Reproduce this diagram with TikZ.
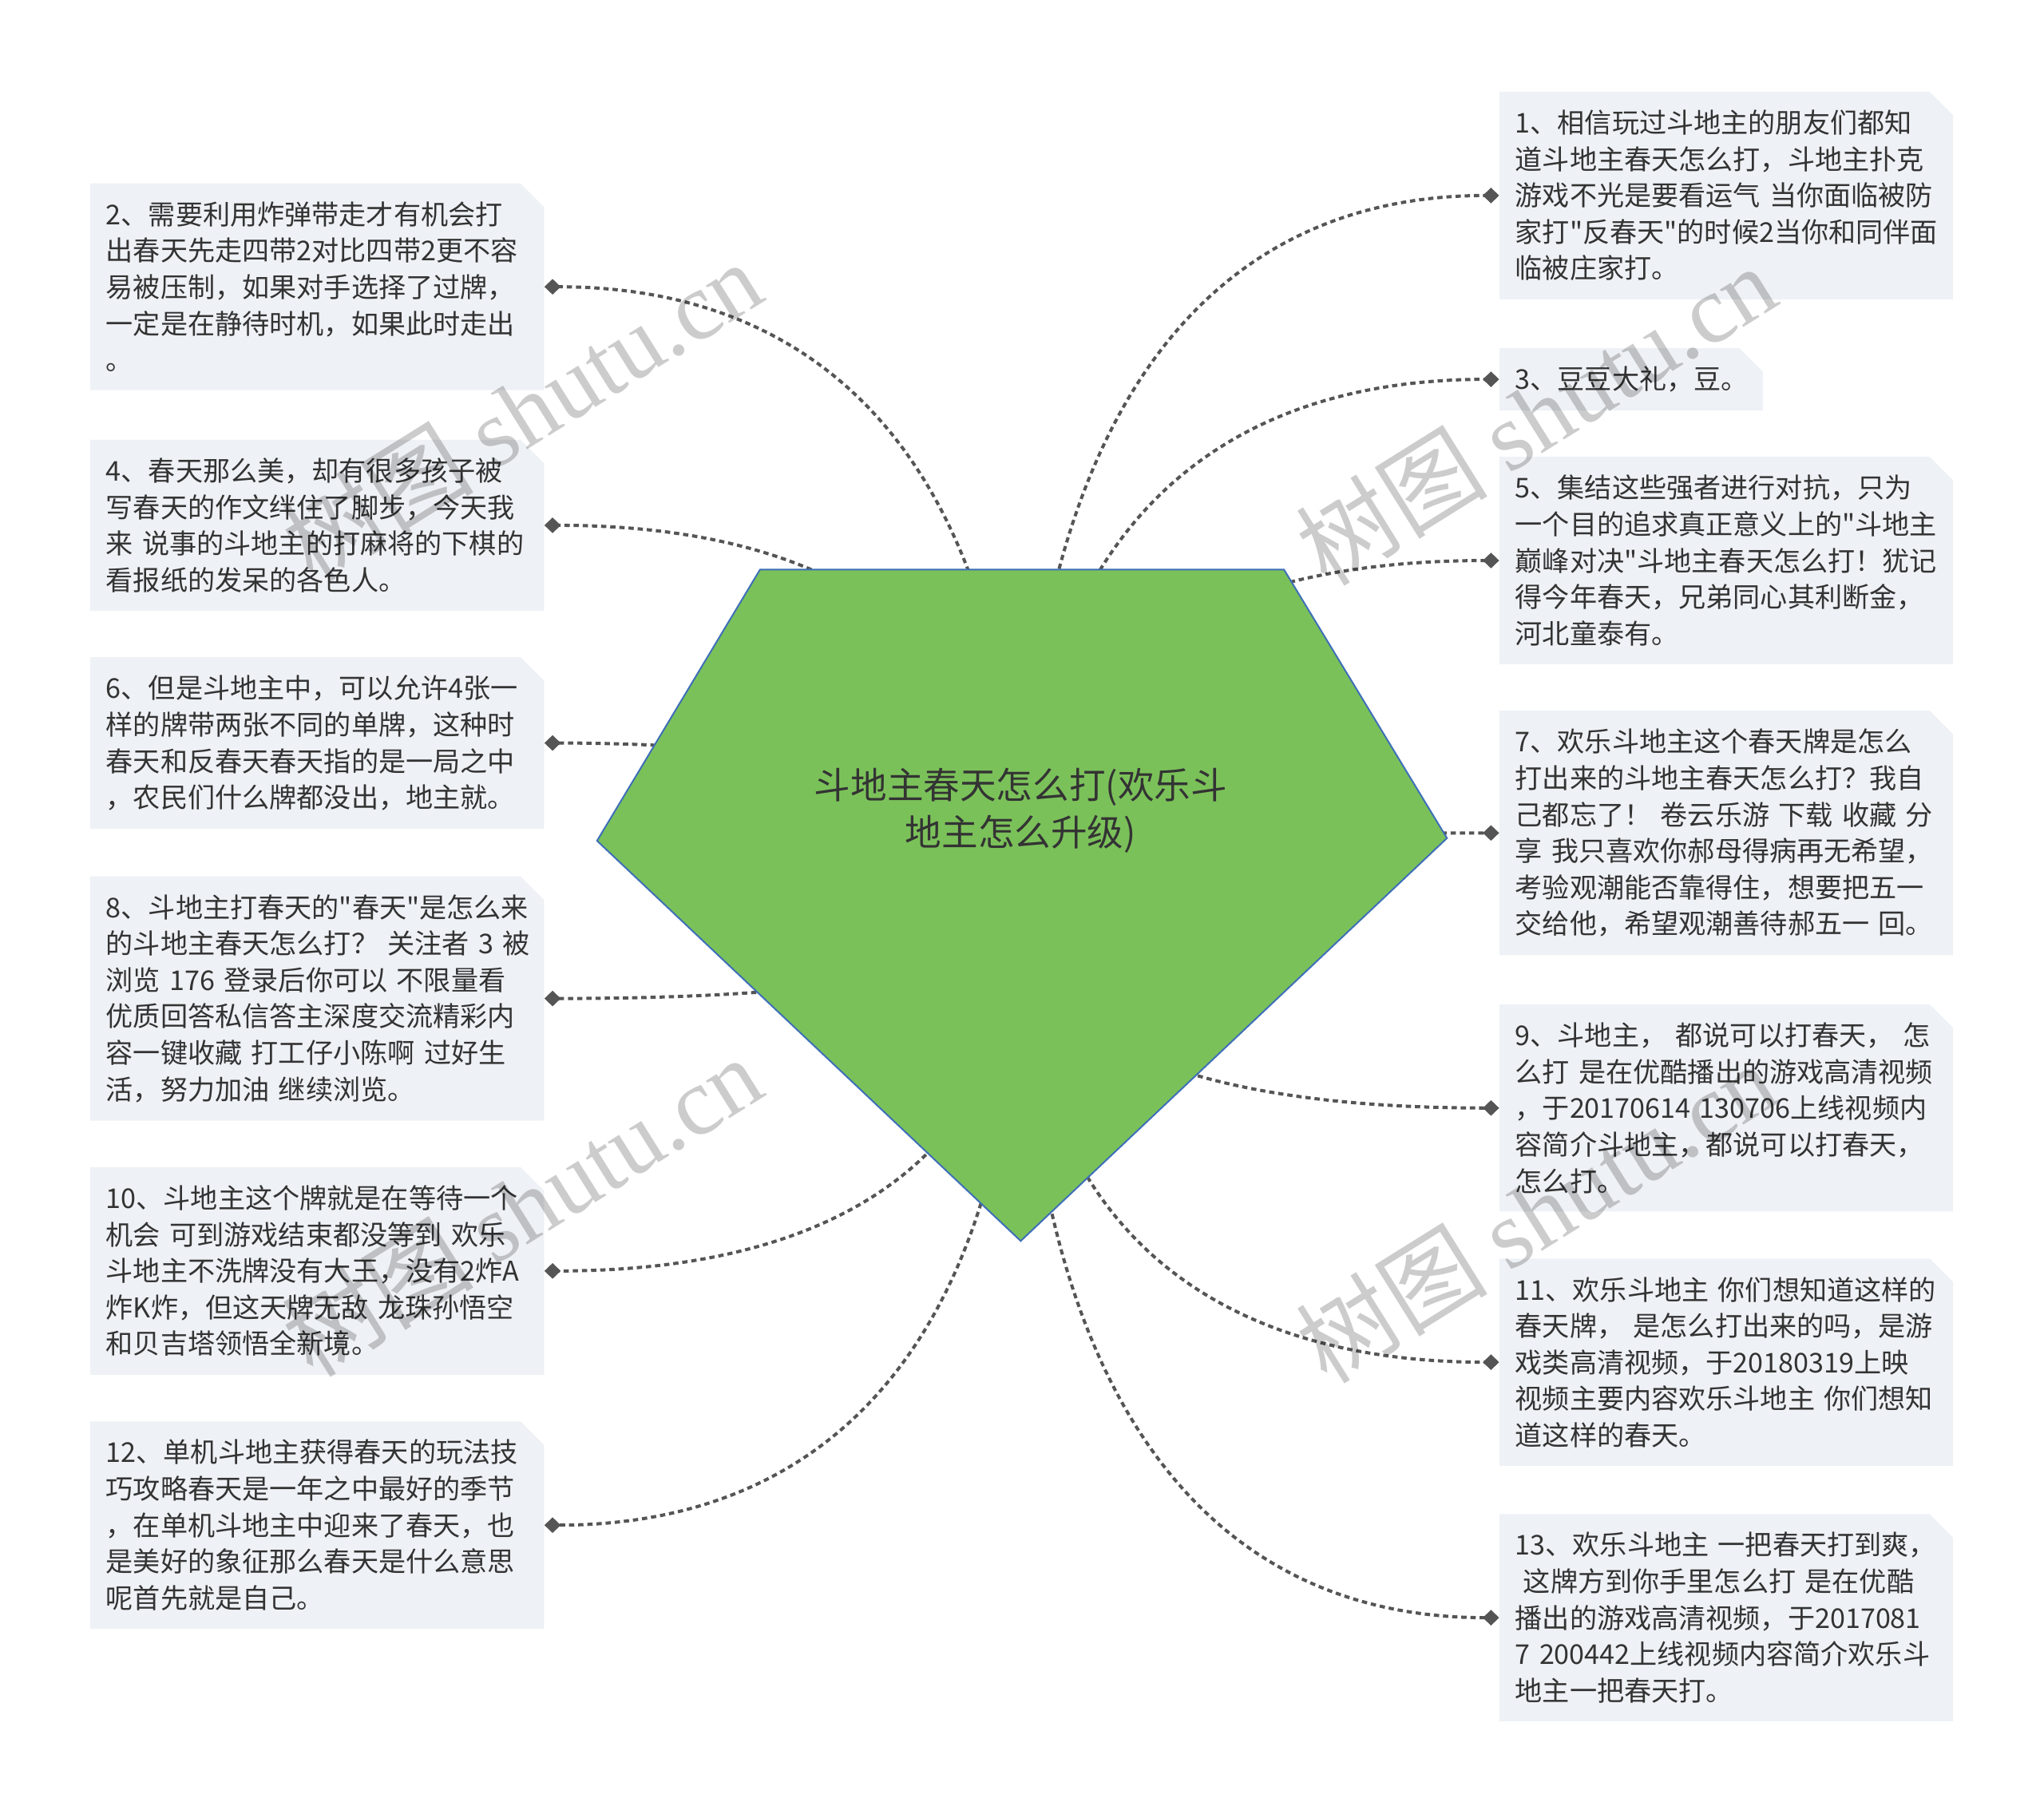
\documentclass[tikz,border=0pt]{standalone}
\usepackage{fontspec}
\newfontfamily\cjk{Noto Sans CJK SC}
\newfontfamily\wmfont{Liberation Serif}
\usetikzlibrary{arrows.meta, shapes.misc, calc}

\definecolor{boxfill}{HTML}{EEF1F5}
\definecolor{hubgreen}{HTML}{7BC15A}
\definecolor{hubedge}{HTML}{3D6FB8}
\definecolor{linkgray}{HTML}{555555}
\definecolor{txt}{HTML}{333333}

\begin{document}
\begin{tikzpicture}[x=0.02cm, y=-0.02cm,
  leaf/.style={chamfered rectangle, chamfered rectangle corners=north east,
               chamfered rectangle xsep=0.18cm, chamfered rectangle ysep=0.18cm,
               fill=boxfill, anchor=west, align=left, text width=6.48cm,
               inner xsep=0.06cm, inner ysep=0.1cm, text=txt,
               font=\cjk\fontsize{11.9pt}{15.9pt}\selectfont},
  titletext/.style={align=center, text=txt,
                    font=\cjk\fontsize{15.9pt}{20.5pt}\selectfont},
  link/.style={draw=linkgray, line width=1.4pt, dash pattern=on 2.3pt off 1.7pt,
               -{Diamond[length=0.25cm, width=0.24cm]}},
  wmark/.style={rotate=32, text=black, opacity=0.2,
                font=\cjk\fontsize{42pt}{42pt}\selectfont},
]
\useasboundingbox (0,0) rectangle (1568,1391);

%% ── Left column ─────────────────────────────────────────────────────
\node[leaf] (b2)  at (69,220)  {2、需要利用炸弹带走才有机会打\\出春天先走四带2对比四带2更不容\\易被压制，如果对手选择了过牌，\\一定是在静待时机，如果此时走出\\。};
\node[leaf] (b4)  at (69,403)  {4、春天那么美，却有很多孩子被\\写春天的作文绊住了脚步，今天我\\来 说事的斗地主的打麻将的下棋的\\看报纸的发呆的各色人。};
\node[leaf] (b6)  at (69,570)  {6、但是斗地主中，可以允许4张一\\样的牌带两张不同的单牌，这种时\\春天和反春天春天指的是一局之中\\，农民们什么牌都没出，地主就。};
\node[leaf] (b8)  at (69,766)  {8、斗地主打春天的"春天"是怎么来\\的斗地主春天怎么打？~关注者~3~被\\浏览~176~登录后你可以~不限量看\\优质回答私信答主深度交流精彩内\\容一键收藏~打工仔小陈啊~过好生\\活，努力加油~继续浏览。};
\node[leaf] (b10) at (69,975)  {10、斗地主这个牌就是在等待一个\\机会~可到游戏结束都没等到~欢乐\\斗地主不洗牌没有大王，没有2炸A\\炸K炸，但这天牌无敌~龙珠孙悟空\\和贝吉塔领悟全新境。};
\node[leaf] (b12) at (69,1170) {12、单机斗地主获得春天的玩法技\\巧攻略春天是一年之中最好的季节\\，在单机斗地主中迎来了春天，也\\是美好的象征那么春天是什么意思\\呢首先就是自己。};

%% ── Right column ────────────────────────────────────────────────────
\node[leaf] (b1)  at (1150,150)  {1、相信玩过斗地主的朋友们都知\\道斗地主春天怎么打，斗地主扑克\\游戏不光是要看运气~当你面临被防\\家打"反春天"的时候2当你和同伴面\\临被庄家打。};
\node[leaf, text width=3.56cm] (b3) at (1150,291) {3、豆豆大礼，豆。};
\node[leaf] (b5)  at (1150,430)  {5、集结这些强者进行对抗，只为\\一个目的追求真正意义上的"斗地主\\巅峰对决"斗地主春天怎么打！犹记\\得今年春天，兄弟同心其利断金，\\河北童泰有。};
\node[leaf] (b7)  at (1150,639)  {7、欢乐斗地主这个春天牌是怎么\\打出来的斗地主春天怎么打？我自\\己都忘了！~卷云乐游~下载~收藏~分\\享~我只喜欢你郝母得病再无希望，\\考验观潮能否靠得住，想要把五一\\交给他，希望观潮善待郝五一~回。};
\node[leaf] (b9)  at (1150,850)  {9、斗地主，~都说可以打春天，~怎\\么打~是在优酷播出的游戏高清视频\\，于20170614~130706上线视频内\\容简介斗地主，都说可以打春天，\\怎么打。};
\node[leaf] (b11) at (1150,1045) {11、欢乐斗地主~你们想知道这样的\\春天牌，~是怎么打出来的吗，是游\\戏类高清视频，于20180319上映\\视频主要内容欢乐斗地主~你们想知\\道这样的春天。};
\node[leaf] (b13) at (1150,1241) {13、欢乐斗地主~一把春天打到爽，\\\hspace*{0.3em}这牌方到你手里怎么打~是在优酷\\播出的游戏高清视频，于2017081\\7~200442上线视频内容简介欢乐斗\\地主一把春天打。};

%% ── Links (under the pentagon) ──────────────────────────────────────
\coordinate (core) at (783,694);
\foreach \b/\a in {b2/east, b4/east, b6/east, b8/east, b10/east, b12/east,
                   b1/west, b3/west, b5/west, b7/west, b9/west, b11/west, b13/west}
  \draw[link] (core) .. controls ($(core)!.65!(core |- \b.\a)$)
                     and ($(\b.\a)!.65!(core |- \b.\a)$) .. (\b.\a);

%% ── Central pentagon ────────────────────────────────────────────────
\filldraw[fill=hubgreen, draw=hubedge, line width=0.7pt]
  (583,437) -- (985,437) -- (1110,643) -- (783,952) -- (458,645) -- cycle;
\node[titletext] (title) at (783,622) {斗地主春天怎么打(欢乐斗\\地主怎么升级)};

%% ── Watermarks ──────────────────────────────────────────────────────
\node[wmark] (wm1) at (400,315)  {树图 {\wmfont shutu.cn}};
\node[wmark] (wm2) at (1178,318) {树图 {\wmfont shutu.cn}};
\node[wmark] (wm3) at (400,925)  {树图 {\wmfont shutu.cn}};
\node[wmark] (wm4) at (1178,930) {树图 {\wmfont shutu.cn}};

\end{tikzpicture}
\end{document}
